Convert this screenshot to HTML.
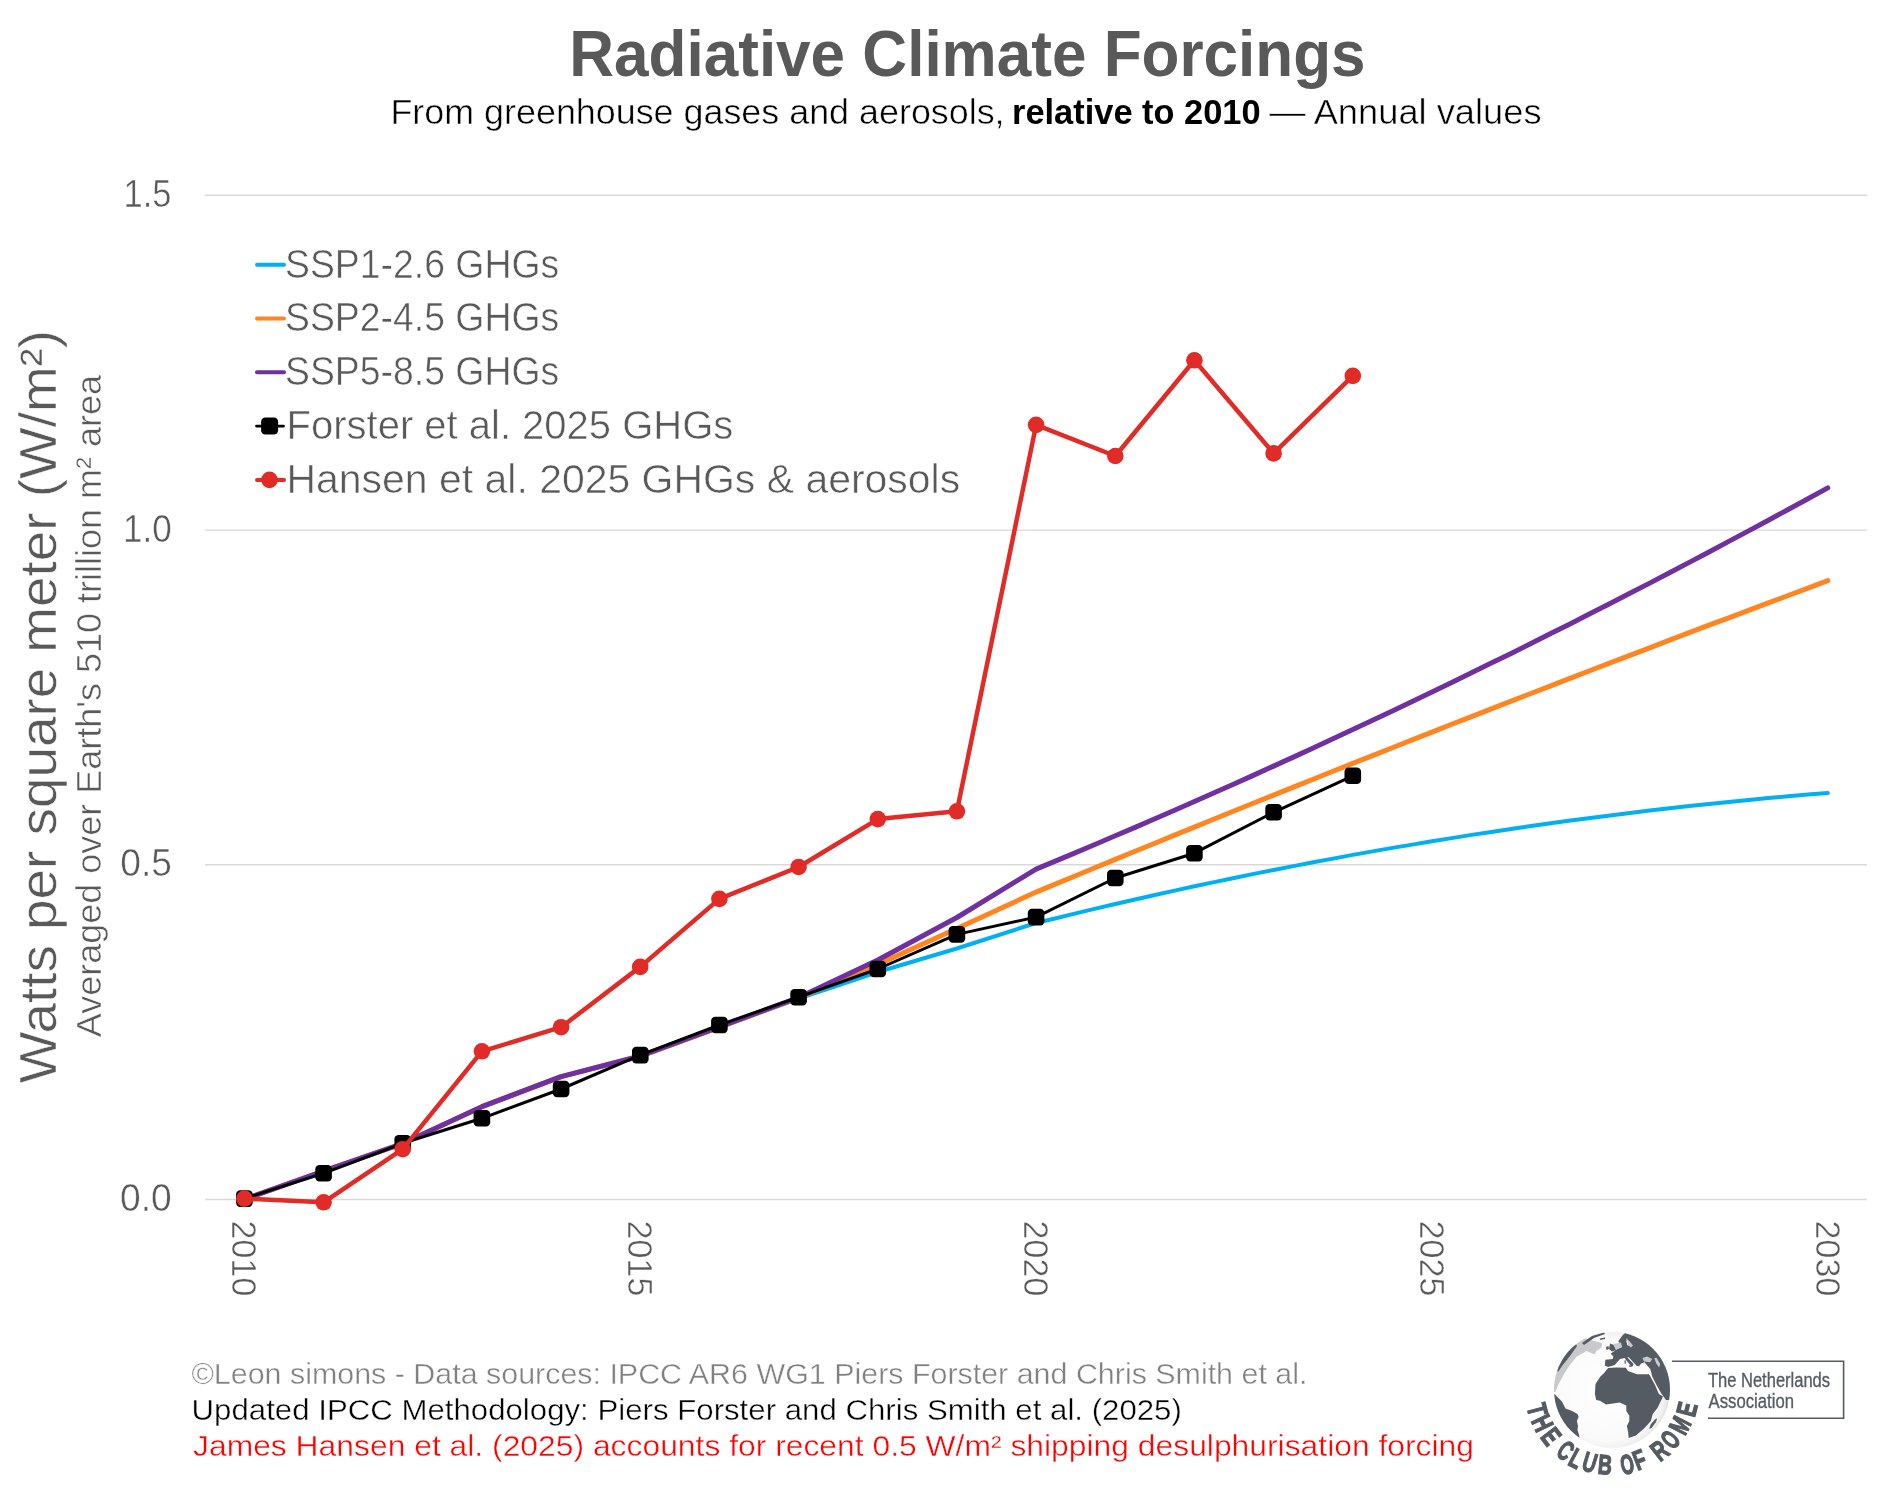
<!DOCTYPE html>
<html><head><meta charset="utf-8"><title>Radiative Climate Forcings</title>
<style>
html,body{margin:0;padding:0;background:#fff;}
body{width:1894px;height:1504px;overflow:hidden;}
svg{display:block;will-change:transform;font-family:"Liberation Sans", sans-serif;}
</style></head><body>
<svg width="1894" height="1504" viewBox="0 0 1894 1504">
<rect width="1894" height="1504" fill="#fff"/>
<text x="569.31" y="75.80" font-size="65.41" font-weight="bold" fill="#595959" textLength="796.32" lengthAdjust="spacingAndGlyphs">Radiative Climate Forcings</text>
<text x="390.44" y="124.00" font-size="34.88" font-weight="normal" fill="#000" textLength="614.16" lengthAdjust="spacingAndGlyphs" stroke="#fff" stroke-width="0.5">From greenhouse gases and aerosols,</text>
<text x="1012.06" y="124.00" font-size="34.88" font-weight="bold" fill="#000" textLength="248.57" lengthAdjust="spacingAndGlyphs">relative to 2010</text>
<text x="1269.30" y="124.00" font-size="34.88" font-weight="normal" fill="#000" textLength="272.27" lengthAdjust="spacingAndGlyphs" stroke="#fff" stroke-width="0.5">— Annual values</text>
<line x1="205" y1="1199.5" x2="1867" y2="1199.5" stroke="#d9d9d9" stroke-width="1.4"/>
<line x1="205" y1="864.8" x2="1867" y2="864.8" stroke="#d9d9d9" stroke-width="1.4"/>
<line x1="205" y1="530.1" x2="1867" y2="530.1" stroke="#d9d9d9" stroke-width="1.4"/>
<line x1="205" y1="195.3" x2="1867" y2="195.3" stroke="#d9d9d9" stroke-width="1.4"/>
<text x="123.62" y="206.75" font-size="38.08" font-weight="normal" fill="#595959" textLength="47.87" lengthAdjust="spacingAndGlyphs" stroke="#fff" stroke-width="0.5">1.5</text>
<text x="122.97" y="541.50" font-size="38.08" font-weight="normal" fill="#595959" textLength="48.75" lengthAdjust="spacingAndGlyphs" stroke="#fff" stroke-width="0.5">1.0</text>
<text x="120.21" y="876.25" font-size="38.08" font-weight="normal" fill="#595959" textLength="51.68" lengthAdjust="spacingAndGlyphs" stroke="#fff" stroke-width="0.5">0.5</text>
<text x="120.01" y="1211.00" font-size="38.08" font-weight="normal" fill="#595959" textLength="51.69" lengthAdjust="spacingAndGlyphs" stroke="#fff" stroke-width="0.5">0.0</text>
<text transform="translate(232.30,1222.30) rotate(90)" x="-1.70" y="0" font-size="35.17" font-weight="normal" fill="#595959" textLength="75.75" lengthAdjust="spacingAndGlyphs" stroke="#fff" stroke-width="0.5">2010</text>
<text transform="translate(628.15,1222.30) rotate(90)" x="-1.70" y="0" font-size="35.17" font-weight="normal" fill="#595959" textLength="75.84" lengthAdjust="spacingAndGlyphs" stroke="#fff" stroke-width="0.5">2015</text>
<text transform="translate(1024.00,1222.30) rotate(90)" x="-1.70" y="0" font-size="35.17" font-weight="normal" fill="#595959" textLength="75.75" lengthAdjust="spacingAndGlyphs" stroke="#fff" stroke-width="0.5">2020</text>
<text transform="translate(1419.85,1222.30) rotate(90)" x="-1.70" y="0" font-size="35.17" font-weight="normal" fill="#595959" textLength="75.84" lengthAdjust="spacingAndGlyphs" stroke="#fff" stroke-width="0.5">2025</text>
<text transform="translate(1815.70,1222.30) rotate(90)" x="-1.70" y="0" font-size="35.17" font-weight="normal" fill="#595959" textLength="75.75" lengthAdjust="spacingAndGlyphs" stroke="#fff" stroke-width="0.5">2030</text>
<text transform="translate(55.90,1083.00) rotate(-90)" x="-0.27" y="0" font-size="52.18" font-weight="normal" fill="#595959" textLength="753.39" lengthAdjust="spacingAndGlyphs" stroke="#fff" stroke-width="0.5">Watts per square meter (W/m²)</text>
<text transform="translate(101.00,1037.10) rotate(-90)" x="-0.09" y="0" font-size="34.88" font-weight="normal" fill="#595959" textLength="662.17" lengthAdjust="spacingAndGlyphs" stroke="#fff" stroke-width="0.5">Averaged over Earth's 510 trillion m² area</text>
<polyline points="244.4,1199.3 323.6,1171.2 402.7,1143.5 481.9,1106.7 561.1,1076.6 640.2,1056.5 719.4,1027.5 798.6,998.5 877.8,972.0 956.9,948.5 1036.1,923.0 1055.9,918.2 1075.7,913.4 1095.5,908.6 1115.3,904.0 1135.1,899.5 1154.9,895.0 1174.6,890.6 1194.4,886.3 1214.2,882.1 1234.0,878.0 1253.8,873.9 1273.6,870.0 1293.4,866.1 1313.2,862.3 1333.0,858.6 1352.8,854.9 1372.6,851.4 1392.4,847.9 1412.2,844.6 1432.0,841.3 1451.7,838.1 1471.5,834.9 1491.3,831.9 1511.1,828.9 1530.9,826.1 1550.7,823.3 1570.5,820.6 1590.3,818.0 1610.1,815.4 1629.9,813.0 1649.7,810.6 1669.5,808.3 1689.3,806.1 1709.0,804.0 1728.8,801.9 1748.6,800.0 1768.4,798.1 1788.2,796.3 1808.0,794.6 1827.8,793.0" fill="none" stroke="#00b0f0" stroke-width="4.0" stroke-linejoin="round" stroke-linecap="round"/>
<polyline points="244.4,1199.3 323.6,1171.2 402.7,1143.5 481.9,1106.7 561.1,1076.6 640.2,1056.3 719.4,1027.2 798.6,997.8 877.8,964.5 956.9,928.5 1036.1,892.1 1055.9,883.9 1075.7,875.7 1095.5,867.5 1115.3,859.4 1135.1,851.3 1154.9,843.2 1174.6,835.1 1194.4,827.1 1214.2,819.0 1234.0,811.0 1253.8,803.0 1273.6,795.1 1293.4,787.1 1313.2,779.2 1333.0,771.3 1352.8,763.4 1372.6,755.6 1392.4,747.7 1412.2,739.9 1432.0,732.1 1451.7,724.3 1471.5,716.6 1491.3,708.9 1511.1,701.2 1530.9,693.5 1550.7,685.8 1570.5,678.2 1590.3,670.5 1610.1,662.9 1629.9,655.3 1649.7,647.8 1669.5,640.2 1689.3,632.7 1709.0,625.2 1728.8,617.8 1748.6,610.3 1768.4,602.9 1788.2,595.5 1808.0,588.1 1827.8,580.7" fill="none" stroke="#ff8521" stroke-width="5" stroke-linejoin="round" stroke-linecap="round"/>
<polyline points="244.4,1199.3 323.6,1171.2 402.7,1143.5 481.9,1106.7 561.1,1076.6 640.2,1056.0 719.4,1026.8 798.6,997.5 877.8,960.0 956.9,917.5 1036.1,869.1 1055.9,860.9 1075.7,852.6 1095.5,844.3 1115.3,835.8 1135.1,827.4 1154.9,818.8 1174.6,810.2 1194.4,801.5 1214.2,792.8 1234.0,784.0 1253.8,775.1 1273.6,766.1 1293.4,757.1 1313.2,748.0 1333.0,738.8 1352.8,729.6 1372.6,720.3 1392.4,711.0 1412.2,701.5 1432.0,692.0 1451.7,682.5 1471.5,672.8 1491.3,663.1 1511.1,653.4 1530.9,643.5 1550.7,633.6 1570.5,623.7 1590.3,613.6 1610.1,603.5 1629.9,593.3 1649.7,583.1 1669.5,572.8 1689.3,562.4 1709.0,552.0 1728.8,541.4 1748.6,530.9 1768.4,520.2 1788.2,509.5 1808.0,498.7 1827.8,487.9" fill="none" stroke="#7030a0" stroke-width="5" stroke-linejoin="round" stroke-linecap="round"/>
<polyline points="244.4,1198.6 323.6,1173.3 402.7,1143.3 481.9,1118.3 561.1,1089.0 640.2,1055.1 719.4,1025.0 798.6,997.2 877.8,969.0 956.9,934.4 1036.1,917.1 1115.3,878.0 1194.4,853.2 1273.6,812.3 1352.8,775.8" fill="none" stroke="#000" stroke-width="3.0" stroke-linejoin="round" stroke-linecap="round"/>
<rect x="236.1" y="1190.3" width="16.6" height="16.6" rx="4.2" fill="#000"/>
<rect x="315.3" y="1165.0" width="16.6" height="16.6" rx="4.2" fill="#000"/>
<rect x="394.4" y="1135.0" width="16.6" height="16.6" rx="4.2" fill="#000"/>
<rect x="473.6" y="1110.0" width="16.6" height="16.6" rx="4.2" fill="#000"/>
<rect x="552.8" y="1080.7" width="16.6" height="16.6" rx="4.2" fill="#000"/>
<rect x="632.0" y="1046.8" width="16.6" height="16.6" rx="4.2" fill="#000"/>
<rect x="711.1" y="1016.7" width="16.6" height="16.6" rx="4.2" fill="#000"/>
<rect x="790.3" y="988.9" width="16.6" height="16.6" rx="4.2" fill="#000"/>
<rect x="869.5" y="960.7" width="16.6" height="16.6" rx="4.2" fill="#000"/>
<rect x="948.6" y="926.1" width="16.6" height="16.6" rx="4.2" fill="#000"/>
<rect x="1027.8" y="908.8" width="16.6" height="16.6" rx="4.2" fill="#000"/>
<rect x="1107.0" y="869.7" width="16.6" height="16.6" rx="4.2" fill="#000"/>
<rect x="1186.1" y="844.9" width="16.6" height="16.6" rx="4.2" fill="#000"/>
<rect x="1265.3" y="804.0" width="16.6" height="16.6" rx="4.2" fill="#000"/>
<rect x="1344.5" y="767.5" width="16.6" height="16.6" rx="4.2" fill="#000"/>
<polyline points="244.4,1198.6 323.6,1202.3 402.7,1149.2 481.9,1051.3 561.1,1027.2 640.2,966.9 719.4,898.9 798.6,867.0 877.8,819.1 956.9,811.3 1036.1,424.9 1115.3,456.0 1194.4,360.3 1273.6,453.4 1352.8,375.9" fill="none" stroke="#e02b27" stroke-width="4.5" stroke-linejoin="round" stroke-linecap="round"/>
<circle cx="244.4" cy="1198.6" r="8.3" fill="#e02b27"/>
<circle cx="323.6" cy="1202.3" r="8.3" fill="#e02b27"/>
<circle cx="402.7" cy="1149.2" r="8.3" fill="#e02b27"/>
<circle cx="481.9" cy="1051.3" r="8.3" fill="#e02b27"/>
<circle cx="561.1" cy="1027.2" r="8.3" fill="#e02b27"/>
<circle cx="640.2" cy="966.9" r="8.3" fill="#e02b27"/>
<circle cx="719.4" cy="898.9" r="8.3" fill="#e02b27"/>
<circle cx="798.6" cy="867.0" r="8.3" fill="#e02b27"/>
<circle cx="877.8" cy="819.1" r="8.3" fill="#e02b27"/>
<circle cx="956.9" cy="811.3" r="8.3" fill="#e02b27"/>
<circle cx="1036.1" cy="424.9" r="8.3" fill="#e02b27"/>
<circle cx="1115.3" cy="456.0" r="8.3" fill="#e02b27"/>
<circle cx="1194.4" cy="360.3" r="8.3" fill="#e02b27"/>
<circle cx="1273.6" cy="453.4" r="8.3" fill="#e02b27"/>
<circle cx="1352.8" cy="375.9" r="8.3" fill="#e02b27"/>
<line x1="257" y1="264.7" x2="284" y2="264.7" stroke="#00b0f0" stroke-width="4" stroke-linecap="round"/>
<text x="285.02" y="277.60" font-size="39.97" font-weight="normal" fill="#595959" textLength="274.13" lengthAdjust="spacingAndGlyphs" stroke="#fff" stroke-width="0.55">SSP1-2.6 GHGs</text>
<line x1="257" y1="318.5" x2="284" y2="318.5" stroke="#ff8521" stroke-width="4" stroke-linecap="round"/>
<text x="285.02" y="331.40" font-size="39.97" font-weight="normal" fill="#595959" textLength="274.13" lengthAdjust="spacingAndGlyphs" stroke="#fff" stroke-width="0.55">SSP2-4.5 GHGs</text>
<line x1="257" y1="372.3" x2="284" y2="372.3" stroke="#7030a0" stroke-width="4" stroke-linecap="round"/>
<text x="285.02" y="385.20" font-size="39.97" font-weight="normal" fill="#595959" textLength="274.13" lengthAdjust="spacingAndGlyphs" stroke="#fff" stroke-width="0.55">SSP5-8.5 GHGs</text>
<line x1="256.5" y1="426.1" x2="283.5" y2="426.1" stroke="#000" stroke-width="2.8" stroke-linecap="round"/>
<rect x="261.1" y="417.6" width="17" height="17" rx="4.2" fill="#000"/>
<text x="286.60" y="439.00" font-size="39.97" font-weight="normal" fill="#595959" textLength="446.65" lengthAdjust="spacingAndGlyphs" stroke="#fff" stroke-width="0.55">Forster et al. 2025 GHGs</text>
<line x1="257" y1="479.9" x2="284" y2="479.9" stroke="#e02b27" stroke-width="4" stroke-linecap="round"/>
<circle cx="269.5" cy="479.9" r="8.3" fill="#e02b27"/>
<text x="286.52" y="492.80" font-size="39.97" font-weight="normal" fill="#595959" textLength="673.66" lengthAdjust="spacingAndGlyphs" stroke="#fff" stroke-width="0.55">Hansen et al. 2025 GHGs &amp; aerosols</text>
<text x="191.44" y="1383.60" font-size="29.36" font-weight="normal" fill="#808080" textLength="1115.99" lengthAdjust="spacingAndGlyphs" stroke="#fff" stroke-width="0.4">©Leon simons - Data sources: IPCC AR6 WG1 Piers Forster and Chris Smith et al.</text>
<text x="191.58" y="1419.70" font-size="29.36" font-weight="normal" fill="#000" textLength="990.29" lengthAdjust="spacingAndGlyphs" stroke="#fff" stroke-width="0.4">Updated IPCC Methodology: Piers Forster and Chris Smith et al. (2025)</text>
<text x="193.02" y="1455.80" font-size="29.36" font-weight="normal" fill="#ff0000" textLength="1281.02" lengthAdjust="spacingAndGlyphs" stroke="#fff" stroke-width="0.4">James Hansen et al. (2025) accounts for recent 0.5 W/m² shipping desulphurisation forcing</text>
<defs>
<radialGradient id="gg" cx="0.45" cy="0.5" r="0.55">
<stop offset="0" stop-color="#ffffff"/><stop offset="0.8" stop-color="#fafafa"/><stop offset="0.93" stop-color="#f0f0f0"/><stop offset="1" stop-color="#e2e2e2"/>
</radialGradient>
<clipPath id="gc"><circle cx="1612.0" cy="1389.8" r="58.0"/></clipPath>
</defs>
<circle cx="1612.0" cy="1389.8" r="58.0" fill="url(#gg)"/>
<g clip-path="url(#gc)">
<path d="M1540.0,1395.0 L1540.0,1330.0 L1584.3,1338.0 L1602.1,1343.2 L1601.5,1347.8 L1596.2,1351.1 L1594.9,1354.4 L1586.3,1351.1 L1576.4,1357.0 L1569.8,1365.0 L1563.2,1375.5 L1557.9,1385.4 L1555.3,1392.0 Z" fill="#c8c9cc"/>
<path d="M1556.0,1368.0 L1566.0,1352.0 L1576.0,1344.0 L1577.0,1346.0 L1570.0,1356.0 L1562.0,1366.0 L1558.0,1372.0 Z" fill="#555b62"/>
<path d="M1582.0,1343.0 L1592.0,1336.0 L1604.0,1332.5 L1605.0,1334.0 L1594.0,1338.0 L1584.0,1345.0 Z" fill="#555b62"/>
<path d="M1600.0,1338.5 L1605.0,1337.5 L1605.0,1339.0 L1600.0,1340.0 Z" fill="#555b62"/>
<path d="M1622.6,1335.3 L1640.0,1320.0 L1700.0,1320.0 L1700.0,1400.0 L1666.0,1400.0 L1661.0,1393.0 L1656.0,1384.0 L1652.0,1376.0 L1651.5,1373.5 L1650.3,1369.0 L1644.4,1362.3 L1641.1,1363.6 L1639.1,1366.3 L1637.0,1366.0 L1634.0,1363.0 L1629.0,1357.6 L1627.4,1356.8 L1628.3,1358.4 L1633.6,1364.0 L1632.2,1366.8 L1629.8,1364.6 L1626.8,1361.0 L1624.6,1357.9 L1620.0,1359.0 L1614.7,1365.0 L1608.1,1367.0 L1604.8,1365.6 L1605.4,1359.7 L1612.7,1359.0 L1613.4,1356.4 L1610.7,1353.7 L1616.0,1349.8 L1622.0,1347.1 L1618.3,1341.2 Z" fill="#555b62"/>
<path d="M1610.0,1343.5 L1614.0,1345.0 L1616.0,1350.0 L1612.0,1351.5 L1609.0,1349.0 Z" fill="#555b62"/>
<path d="M1606.0,1347.0 L1608.5,1346.0 L1609.0,1349.0 L1606.5,1350.0 Z" fill="#555b62"/>
<path d="M1626.0,1341.0 L1628.5,1340.0 L1633.0,1345.5 L1631.0,1347.5 L1627.5,1345.0 Z" fill="#c8c9cc"/>
<path d="M1626.3,1338.5 L1627.2,1338.5 L1628.3,1345.2 L1627.4,1345.2 Z" fill="#f4f4f4"/>
<path d="M1613.0,1344.0 L1621.0,1342.5 L1622.0,1347.0 L1616.0,1349.5 Z" fill="#c8c9cc"/>
<path d="M1642.5,1358.0 L1647.0,1356.4 L1652.3,1359.0 L1650.0,1362.3 L1644.0,1361.5 Z" fill="#c8c9cc"/>
<path d="M1654.3,1358.0 L1656.5,1357.7 L1660.2,1364.0 L1659.0,1367.6 L1656.0,1363.0 Z" fill="#c8c9cc"/>
<path d="M1608.1,1367.9 L1616.0,1367.4 L1625.9,1367.8 L1627.9,1370.9 L1637.1,1374.2 L1649.0,1374.2 L1650.3,1376.2 L1655.0,1385.0 L1658.9,1394.0 L1663.0,1396.5 L1657.5,1408.0 L1652.7,1413.9 L1650.9,1421.1 L1644.3,1428.3 L1635.9,1435.5 L1628.7,1437.9 L1628.1,1431.9 L1626.9,1425.9 L1629.3,1421.1 L1629.3,1415.7 L1626.3,1410.9 L1626.3,1405.6 L1619.7,1402.6 L1606.0,1404.4 L1600.0,1400.8 L1596.2,1400.0 L1594.9,1394.0 L1595.5,1384.1 L1600.2,1376.8 L1604.1,1372.9 Z" fill="#555b62"/>
<path d="M1629.0,1365.2 L1632.0,1365.4 L1631.5,1367.0 L1629.3,1366.8 Z" fill="#555b62"/>
<path d="M1624.5,1360.5 L1625.8,1360.3 L1626.0,1363.5 L1624.7,1363.6 Z" fill="#555b62"/>
<path d="M1649.0,1428.8 L1651.0,1424.0 L1655.0,1419.5 L1657.2,1418.3 L1656.0,1422.0 L1651.5,1428.0 Z" fill="#555b62"/>
<path d="M1540.0,1390.0 L1554.7,1394.2 L1561.9,1401.4 L1565.5,1408.6 L1572.1,1410.9 L1577.5,1413.9 L1578.6,1416.9 L1576.9,1421.1 L1578.0,1425.9 L1577.5,1430.1 L1579.2,1435.5 L1581.0,1460.0 L1540.0,1460.0 Z" fill="#555b62"/>
</g>
<text transform="translate(1537.14,1409.86) rotate(75.00) scale(0.72,1)" y="9.50" text-anchor="middle" font-size="27.62" font-weight="bold" fill="#555b62" stroke="#555b62" stroke-width="1.3">T</text>
<text transform="translate(1542.32,1423.04) rotate(64.50) scale(0.72,1)" y="9.50" text-anchor="middle" font-size="27.62" font-weight="bold" fill="#555b62" stroke="#555b62" stroke-width="1.3">H</text>
<text transform="translate(1551.15,1436.49) rotate(52.50) scale(0.72,1)" y="9.50" text-anchor="middle" font-size="27.62" font-weight="bold" fill="#555b62" stroke="#555b62" stroke-width="1.3">E</text>
<text transform="translate(1565.60,1450.49) rotate(37.40) scale(0.64,1)" y="9.50" text-anchor="middle" font-size="27.62" font-weight="bold" fill="#555b62" stroke="#555b62" stroke-width="1.3">C</text>
<text transform="translate(1576.14,1458.39) rotate(27.60) scale(0.68,1)" y="9.50" text-anchor="middle" font-size="27.62" font-weight="bold" fill="#555b62" stroke="#555b62" stroke-width="1.3">L</text>
<text transform="translate(1589.78,1462.48) rotate(17.00) scale(0.68,1)" y="9.50" text-anchor="middle" font-size="27.62" font-weight="bold" fill="#555b62" stroke="#555b62" stroke-width="1.3">U</text>
<text transform="translate(1605.04,1464.78) rotate(5.30) scale(0.7,1)" y="9.50" text-anchor="middle" font-size="27.62" font-weight="bold" fill="#555b62" stroke="#555b62" stroke-width="1.3">B</text>
<text transform="translate(1627.15,1464.27) rotate(-11.50) scale(0.62,1)" y="9.50" text-anchor="middle" font-size="27.62" font-weight="bold" fill="#555b62" stroke="#555b62" stroke-width="1.3">O</text>
<text transform="translate(1639.60,1459.86) rotate(-21.50) scale(0.7,1)" y="9.50" text-anchor="middle" font-size="27.62" font-weight="bold" fill="#555b62" stroke="#555b62" stroke-width="1.3">F</text>
<text transform="translate(1659.51,1450.39) rotate(-38.10) scale(0.7,1)" y="9.50" text-anchor="middle" font-size="27.62" font-weight="bold" fill="#555b62" stroke="#555b62" stroke-width="1.3">R</text>
<text transform="translate(1670.32,1439.61) rotate(-49.50) scale(0.62,1)" y="9.50" text-anchor="middle" font-size="27.62" font-weight="bold" fill="#555b62" stroke="#555b62" stroke-width="1.3">O</text>
<text transform="translate(1680.12,1425.26) rotate(-62.50) scale(0.66,1)" y="9.50" text-anchor="middle" font-size="27.62" font-weight="bold" fill="#555b62" stroke="#555b62" stroke-width="1.3">M</text>
<text transform="translate(1686.84,1409.15) rotate(-75.50) scale(0.72,1)" y="9.50" text-anchor="middle" font-size="27.62" font-weight="bold" fill="#555b62" stroke="#555b62" stroke-width="1.3">E</text>
<path d="M1672,1361.2 L1843.6,1361.2 L1843.6,1418.2 L1708,1418.2" fill="none" stroke="#555b62" stroke-width="1.6"/>
<text x="1707.93" y="1387.10" font-size="21.08" font-weight="normal" fill="#555b62" textLength="122.16" lengthAdjust="spacingAndGlyphs" stroke="#555b62" stroke-width="0.35">The Netherlands</text>
<text x="1708.56" y="1408.00" font-size="21.08" font-weight="normal" fill="#555b62" textLength="85.41" lengthAdjust="spacingAndGlyphs" stroke="#555b62" stroke-width="0.35">Association</text>
</svg>
</body></html>
